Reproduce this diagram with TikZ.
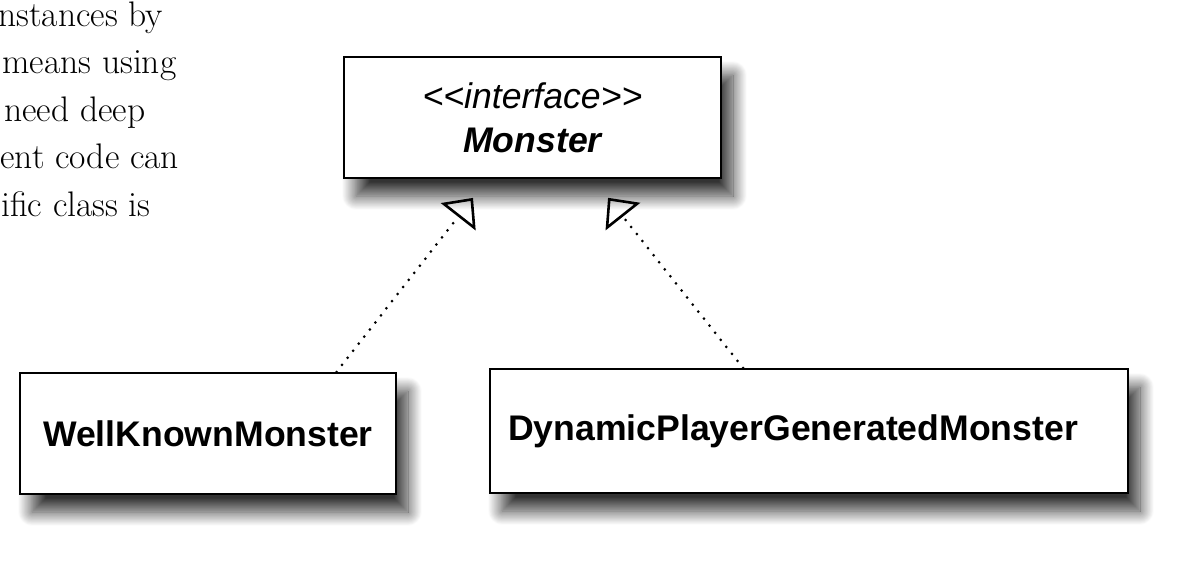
\documentclass[tikz,border=0pt]{standalone}
\usepackage{fontspec}
\setsansfont{Liberation Sans}
\usetikzlibrary{arrows.meta,positioning,calc,shadows.blur}
\tikzset{
  cls/.style={draw, line width=1pt, fill=white, minimum width=#1, minimum height=60.5pt, align=center,
    font=\sffamily\bfseries\fontsize{17.8}{22}\selectfont,
    blur shadow={shadow xshift=6pt, shadow yshift=-9pt, shadow blur radius=7pt, shadow blur steps=24, shadow opacity=80}},
  realize/.style={line width=1.5pt, dash pattern=on 0pt off 4.5pt, line cap=round,
    -{Triangle[open, length=12pt, width=22pt, line width=1.3pt]}, shorten >=12pt},
  para/.style={anchor=base west, inner sep=0pt, font=\fontsize{17.75}{22}\selectfont},
}

\begin{document}
\begin{tikzpicture}[x=0.5pt, y=-0.5pt]
  \useasboundingbox (0,0) rectangle (1200,578);
  \node[para] (p1) at (-2,26) {nstances by};
  \node[para] (p2) at (2,73.5) {means using};
  \node[para] (p3) at (4,121) {need deep};
  \node[para] (p4) at (0,168.5) {ent code can};
  \node[para] (p5) at (1,216) {ific class is};
  \node[cls=188.5pt] (monster) at (532.5,117.5) {{\mdseries\itshape <\kern0pt<interface>\kern0pt>}\\ \itshape Monster};
  \node[cls=188pt] (wkm) at (208,433.5) {WellKnownMonster};
  \node[cls=319pt, minimum height=62pt] (dyn) at (809,431) {DynamicPlayerGeneratedMonster\hspace*{16pt}};
  \draw[realize] ($(wkm.north west)!0.84!(wkm.north east)$) -- ($(monster.south west)!0.382!(monster.south east)$);
  \draw[realize] ($(dyn.north west)!0.397!(dyn.north east)$) -- ($(monster.south west)!0.66!(monster.south east)$);
\end{tikzpicture}
\end{document}
